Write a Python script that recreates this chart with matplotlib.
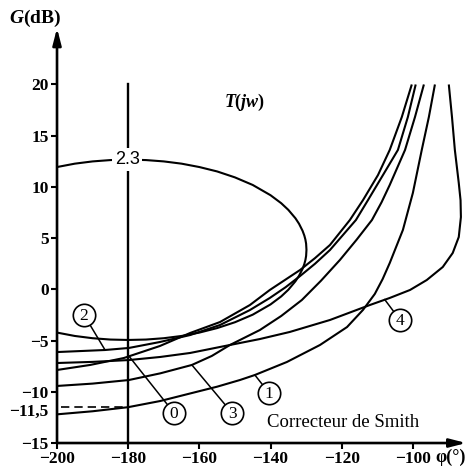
import matplotlib
matplotlib.use("Agg")
import matplotlib.pyplot as plt

plt.rcParams['mathtext.fontset'] = 'custom'
plt.rcParams['mathtext.it'] = 'Liberation Serif:italic:bold'
plt.rcParams['mathtext.rm'] = 'Liberation Serif:bold'
plt.rcParams['mathtext.bf'] = 'Liberation Serif:bold'
plt.rcParams['axes.unicode_minus'] = True

SERIF = 'Liberation Serif'

# ---------------- data (phase in degrees, gain in dB) ----------------
# closed-loop M-contour 2.3 dB
contour_phase = [-200, -195, -190, -185, -180, -175, -170, -165, -160, -155, -150, -145,
                 -140, -137, -135, -133, -132, -131, -130.5, -130.2, -130.0, -129.9,
                 -130.0, -130.2, -130.5, -131, -132, -133, -135, -137, -140, -145, -150,
                 -155, -160, -165, -170, -175, -180, -185, -190, -195, -200]
contour_gain = [11.94, 12.27, 12.49, 12.62, 12.67, 12.62, 12.49, 12.27, 11.94, 11.51, 10.93, 10.19,
                9.19, 8.41, 7.76, 6.94, 6.41, 5.72, 5.25, 4.86, 4.46, 3.86,
                3.26, 2.86, 2.47, 2.00, 1.32, 0.79, -0.04, -0.69, -1.47, -2.47, -3.21,
                -3.78, -4.22, -4.55, -4.77, -4.90, -4.94, -4.90, -4.77, -4.55, -4.22]

phase_0 = [-200, -190.7, -181.2, -171.1, -162.6, -154.2, -145.8, -140.2, -135.8, -131.7,
           -127.5, -123.3, -117.7, -114.0, -109.8, -106.5, -103.1, -100.3]
gain_0 = [-7.87, -7.38, -6.70, -5.53, -4.26, -3.19, -1.53, -0.06, 0.95, 1.89,
          3.05, 4.33, 6.77, 8.72, 11.16, 13.61, 16.83, 20.0]

phase_2 = [-200, -186.5, -179.8, -171.1, -162.6, -154.2, -145.8, -140.2, -135.8, -131.7,
           -127.5, -123.3, -116.0, -112.6, -108.4, -104.2, -101.4, -99.2]
gain_2 = [-6.12, -5.92, -5.72, -5.14, -4.46, -3.48, -2.02, -0.84, 0.20, 1.30,
          2.50, 3.84, 6.77, 8.72, 11.16, 13.61, 16.83, 20.0]

phase_3 = [-200, -190, -179.8, -171, -162.1, -156.5, -151.4, -143.0, -137.0, -131.2,
           -125.8, -120.5, -115.8, -111.5, -108.8, -106.5, -102.2, -99.4, -96.9]
gain_3 = [-9.43, -9.2, -8.85, -8.2, -7.38, -6.5, -5.43, -3.97, -2.6, -1.04,
          0.85, 2.87, 4.85, 6.77, 8.5, 10.19, 13.61, 16.83, 20.0]

phase_1 = [-200, -190, -180, -171, -162.1, -155, -148.6, -144.4, -135.4, -126.1, -118.5,
           -114.0, -110.7, -108.5, -106.5, -102.8, -100.0, -97.5, -95.5, -93.8]
gain_1 = [-12.2, -11.9, -11.5, -10.9, -10.12, -9.5, -8.85, -8.36, -7.09, -5.43, -3.68,
          -2.0, -0.45, 1.0, 2.57, 5.80, 9.41, 13.61, 16.83, 20.0]

phase_4 = [-200, -190, -179.8, -171, -162.6, -151.4, -143, -134.6, -123.3, -112.1, -106.5,
           -100.8, -96.1, -91.6, -88.8, -87.1, -86.5, -86.6, -87.1, -88.2, -89.0, -89.9]
gain_4 = [-7.19, -7.08, -6.90, -6.6, -6.21, -5.43, -4.85, -4.16, -2.99, -1.53, -0.84,
          -0.06, 0.91, 2.18, 3.55, 5.11, 7.06, 8.7, 10.38, 13.61, 16.8, 20.0]

x_ticks = [-200, -180, -160, -140, -120, -100]
x_tick_labels = ['\u2212200', '\u2212180', '\u2212160', '\u2212140', '\u2212120', '\u2212100']
y_ticks = [-15, -10, -5, 0, 5, 10, 15, 20]
y_tick_labels = ['\u221215', '\u221210', '\u22125', '0', '5', '10', '15', '20']

margin_gain = -11.5
crit_phase = -180

# circled curve labels: text, label position, point on curve
labels = ['2', '0', '3', '1', '4']
label_pos = [(-192.4, -2.5), (-167.1, -12.07), (-150.8, -12.07), (-140.4, -10.12), (-103.6, -2.99)]
label_target = [(-186.5, -5.92), (-179.6, -6.6), (-162.1, -7.38), (-144.4, -8.36), (-107.9, -1.0)]

# ---------------- figure ----------------
fig = plt.figure(figsize=(4.72, 4.72), dpi=100)
ax = fig.add_axes([0.1208, 0.0614, 0.867, 0.879])
ax.set_xlim(-200, -85)
ax.set_ylim(-15, 25.5)

lw = 1.5
for ph, g in [(phase_0, gain_0), (phase_2, gain_2), (phase_3, gain_3),
              (phase_1, gain_1), (phase_4, gain_4)]:
    ax.plot(ph, g, color='black', lw=lw, solid_capstyle='butt', solid_joinstyle='round', zorder=3)
ax.plot(contour_phase, contour_gain, color='black', lw=lw, solid_joinstyle='round', zorder=3)

# critical phase line
ax.plot([crit_phase, crit_phase], [-15, 20], color='black', lw=1.7, zorder=3)
# dashed margin line
ax.plot([-199, crit_phase], [margin_gain, margin_gain], color='black', lw=1.2,
        dashes=(5, 3), zorder=3)

# 2.3 label on the contour
ax.text(-180.3, 12.67, '2.3', ha='center', va='center', fontsize=13,
        family='Liberation Sans',
        bbox=dict(boxstyle='square,pad=0.15', fc='white', ec='none'), zorder=5)

# circled labels
for t, (lx, ly), (tx, ty) in zip(labels, label_pos, label_target):
    ax.plot([tx, lx], [ty, ly], color='black', lw=1.1, zorder=4)
    ax.scatter([lx], [ly], s=260, facecolor='white', edgecolor='black', linewidth=1.2, zorder=6)
    ax.text(lx, ly - 0.1, t, ha='center', va='center', fontsize=12.5, family=SERIF, zorder=7)

# texts
ax.text(-147.2, 18.2, r'$T$($jw$)', ha='center', va='center', fontsize=13,
        family=SERIF, fontweight='bold')
ax.text(-119.7, -12.95, 'Correcteur de Smith', ha='center', va='center', fontsize=13.5,
        family=SERIF)
ax.text(-206.2, 26.44, r'$G$(dB)', ha='center', va='center', fontsize=14,
        family=SERIF, fontweight='bold', clip_on=False)
ax.text(-89.3, -16.37, '\u03c6(°)', ha='center', va='center', fontsize=13,
        family=SERIF, fontweight='bold', clip_on=False)
ax.annotate('\u221211,5', xy=(0, -11.95), xycoords=('axes fraction', 'data'),
            xytext=(-6, 0), textcoords='offset points', ha='right', va='center',
            fontsize=12.5, family=SERIF, fontweight='bold')

# axes style
for s in ['top', 'right', 'left', 'bottom']:
    ax.spines[s].set_visible(False)
ax.set_xticks(x_ticks)
ax.set_xticklabels(x_tick_labels, family=SERIF, fontweight='bold', fontsize=12.5)
ax.set_yticks(y_ticks)
ax.set_yticklabels(y_tick_labels, family=SERIF, fontweight='bold', fontsize=12.5)
ax.tick_params(direction='out', length=4, width=1.5, pad=2)

arrow = dict(arrowstyle='-|>,head_length=0.7,head_width=0.18', lw=1.9, color='black',
             mutation_scale=14, shrinkA=0, shrinkB=0)
ax.annotate('', xy=(0, 1), xytext=(0, 0), xycoords='axes fraction', arrowprops=arrow)
ax.annotate('', xy=(1, 0), xytext=(0, 0), xycoords='axes fraction', arrowprops=arrow)

fig.savefig('out.png', dpi=100)
